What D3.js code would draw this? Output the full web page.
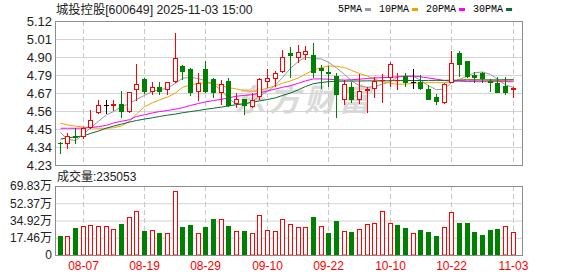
<!DOCTYPE html>
<html>
<head>
<meta charset="utf-8">
<script src="https://cdn.jsdelivr.net/npm/d3@7"></script>
<style>
body { margin: 0; background: #fff; }
svg { display: block; }
</style>
</head>
<body>
<div id="container"></div>
<script>
// data
let stockName = "城投控股[600649]";
let stamp = "2025-11-03 15:00";

let dates = [
  "08-04","08-05","08-06","08-07","08-08","08-11","08-12","08-13","08-14","08-15",
  "08-18","08-19","08-20","08-21","08-22","08-25","08-26","08-27","08-28","08-29",
  "09-01","09-02","09-03","09-04","09-05","09-08","09-09","09-10","09-11","09-12",
  "09-15","09-16","09-17","09-18","09-19","09-22","09-23","09-24","09-25","09-26",
  "09-29","09-30","10-09","10-10","10-13","10-14","10-15","10-16","10-17","10-20",
  "10-21","10-22","10-23","10-24","10-27","10-28","10-29","10-30","10-31","11-03"
];

let open = [
  4.368,4.364,4.412,4.409,4.463,4.559,4.600,4.598,4.607,4.564,
  4.702,4.762,4.687,4.710,4.702,4.751,4.842,4.823,4.689,4.823,
  4.762,4.683,4.749,4.611,4.636,4.595,4.656,4.751,4.766,4.813,
  4.924,4.896,4.916,4.910,4.828,4.805,4.780,4.638,4.714,4.640,
  4.696,4.706,4.753,4.772,4.753,4.780,4.745,4.745,4.698,4.649,
  4.621,4.745,4.920,4.873,4.786,4.797,4.747,4.739,4.718,4.702
];
let high = [
  4.374,4.426,4.457,4.467,4.570,4.632,4.632,4.632,4.689,4.680,
  4.856,4.768,4.743,4.743,4.743,5.048,4.845,4.828,4.800,4.873,
  4.766,4.755,4.766,4.673,4.636,4.677,4.766,4.821,4.811,4.941,
  4.961,4.972,4.967,4.986,4.848,4.842,4.797,4.755,4.745,4.792,
  4.714,4.776,4.792,4.865,4.797,4.800,4.821,4.786,4.724,4.669,
  4.735,4.935,4.935,4.875,4.807,4.807,4.760,4.772,4.776,4.714
];
let low = [
  4.306,4.337,4.368,4.395,4.460,4.553,4.553,4.570,4.529,4.560,
  4.632,4.675,4.667,4.667,4.667,4.745,4.762,4.663,4.632,4.683,
  4.652,4.607,4.595,4.590,4.544,4.590,4.636,4.714,4.718,4.807,
  4.772,4.869,4.883,4.772,4.704,4.718,4.529,4.610,4.621,4.611,
  4.559,4.652,4.621,4.718,4.698,4.718,4.704,4.698,4.636,4.605,
  4.611,4.745,4.780,4.776,4.745,4.745,4.689,4.683,4.667,4.652
];
let close = [
  4.364,4.409,4.405,4.457,4.508,4.599,4.600,4.604,4.564,4.679,
  4.729,4.689,4.714,4.689,4.741,4.889,4.813,4.683,4.739,4.688,
  4.683,4.729,4.601,4.636,4.601,4.632,4.760,4.766,4.797,4.899,
  4.910,4.930,4.936,4.807,4.815,4.801,4.669,4.731,4.638,4.689,
  4.700,4.752,4.758,4.854,4.757,4.745,4.745,4.704,4.640,4.626,
  4.731,4.862,4.856,4.780,4.772,4.766,4.744,4.683,4.683,4.706
];
let volume = [
  192000,192000,276000,293000,304000,293000,293000,263000,314000,381000,
  445000,243000,253000,223000,220000,648000,283000,304000,220000,283000,
  364000,364000,293000,243000,243000,220000,402000,253000,243000,364000,
  310000,280000,280000,385000,293000,220000,344000,240000,233000,263000,
  310000,320000,445000,320000,304000,273000,220000,253000,233000,192000,
  280000,432000,324000,324000,233000,202000,253000,263000,290000,235053
];

let ma5 = [
  4.430,4.390,4.380,4.420,4.460,4.500,4.540,4.560,4.590,4.610,
  4.635,4.660,4.685,4.695,4.705,4.735,4.766,4.772,4.764,4.750,
  4.730,4.690,4.640,4.605,4.600,4.625,4.655,4.685,4.725,4.770,
  4.828,4.870,4.897,4.889,4.885,4.865,4.830,4.790,4.750,4.720,
  4.710,4.715,4.730,4.745,4.775,4.780,4.776,4.755,4.720,4.695,
  4.700,4.740,4.760,4.780,4.800,4.805,4.790,4.760,4.725,4.710
];
let ma10 = [
  4.488,4.478,4.470,4.465,4.460,4.457,4.457,4.460,4.472,4.500,
  4.545,4.590,4.615,4.632,4.650,4.675,4.710,4.725,4.735,4.738,
  4.733,4.720,4.708,4.700,4.690,4.685,4.692,4.705,4.720,4.735,
  4.750,4.768,4.792,4.817,4.832,4.842,4.840,4.832,4.815,4.795,
  4.780,4.760,4.745,4.735,4.729,4.730,4.735,4.737,4.739,4.739,
  4.739,4.745,4.755,4.760,4.758,4.755,4.753,4.752,4.753,4.755
];
let ma20 = [
  4.457,4.457,4.457,4.458,4.462,4.467,4.475,4.490,4.500,4.510,
  4.530,4.540,4.552,4.560,4.567,4.575,4.584,4.598,4.610,4.620,
  4.628,4.636,4.645,4.655,4.660,4.665,4.675,4.688,4.700,4.710,
  4.720,4.735,4.750,4.762,4.762,4.760,4.757,4.755,4.757,4.760,
  4.765,4.768,4.770,4.772,4.775,4.778,4.780,4.775,4.768,4.760,
  4.752,4.749,4.748,4.746,4.745,4.745,4.745,4.745,4.745,4.745
];
let ma30 = [
  4.390,4.398,4.404,4.410,4.425,4.440,4.458,4.470,4.483,4.495,
  4.505,4.514,4.522,4.530,4.538,4.545,4.553,4.560,4.567,4.574,
  4.581,4.588,4.595,4.603,4.610,4.618,4.626,4.635,4.645,4.660,
  4.675,4.695,4.715,4.733,4.740,4.745,4.748,4.748,4.749,4.749,
  4.750,4.750,4.750,4.751,4.751,4.752,4.752,4.752,4.753,4.753,
  4.753,4.754,4.754,4.755,4.755,4.756,4.756,4.756,4.757,4.757
];

let maNames = ["5PMA", "10PMA", "20PMA", "30PMA"];
let gridDates = ["08-07","08-19","08-29","09-10","09-22","10-10","10-22","11-03"];
let priceTicks = ["4.23","4.34","4.45","4.56","4.67","4.79","4.90","5.01","5.12"];
let priceMin = 4.23, priceMax = 5.12;
let volMax = 698300;


let w = 578;
let h = 276;
let left = 55, right = 522;
let pTop = 21, pBot = 165, vTop = 186, vBot = 255;

let red = "#ff0000", green = "#008000";
let maColors = ["#999999", "#f5a000", "#ff00ff", "#0b6b35"];
let labelFont = "'Liberation Sans', 'Noto Sans CJK SC', sans-serif";

let viz = d3.select("#container")
  .append("svg")
    .attr("width", w)
    .attr("height", h)
;

let x = d3.scaleBand().domain(dates).range([56.16, 516.96]);
let col = d => Math.floor(x(d) + x.bandwidth() / 2);
let y = d3.scaleLinear().domain([priceMin, priceMax]).range([pBot, pTop]);
let yv = d3.scaleLinear().domain([0, volMax]).range([vBot, vTop]);

let priceTickVals = d3.range(priceTicks.length).map(k => priceMin + k * (priceMax - priceMin) / (priceTicks.length - 1));
let volTickVals = d3.range(5).map(k => volMax * k / 4);

// watermark
viz.append("text")
  .attr("x", 234)
  .attr("y", 111)
  .attr("font-family", "'Noto Sans CJK SC', sans-serif")
  .attr("font-size", 31)
  .attr("font-weight", "bold")
  .attr("font-style", "italic")
  .attr("letter-spacing", 4)
  .attr("fill", "#dadada")
  .text("东方财富");

// horizontal grid
viz.append("g")
  .attr("transform", "translate(" + left + ",0)")
  .call(d3.axisRight(y).tickValues(priceTickVals).tickSize(right - left).tickFormat(""))
  .call(g => g.select(".domain").remove())
  .selectAll("line").attr("stroke", "#d4d4d4");

viz.append("g")
  .attr("transform", "translate(" + left + ",0)")
  .call(d3.axisRight(yv).tickValues(volTickVals).tickSize(right - left).tickFormat(""))
  .call(g => g.select(".domain").remove())
  .selectAll("line").attr("stroke", "#d4d4d4");

// vertical dashed grid
[[pTop, pBot], [vTop, vBot]].forEach(function(p){
  viz.append("g").selectAll("line").data(gridDates).join("line")
    .attr("x1", d => col(d) + 0.5)
    .attr("x2", d => col(d) + 0.5)
    .attr("y1", p[0])
    .attr("y2", p[1])
    .attr("stroke", "#c8c8c8")
    .attr("stroke-dasharray", "5,3");
});

// moving averages
let lineMaker = d3.line()
  .x((d, i) => col(dates[i]) + 0.5)
  .y(d => y(d));

[ma5, ma10, ma20, ma30].forEach(function(s, k){
  viz.append("path")
    .datum(s)
    .attr("d", lineMaker)
    .attr("fill", "none")
    .attr("stroke", maColors[k])
    .attr("stroke-width", 1);
});

// candles
let idx = d3.range(dates.length);
function candleColor(i){
  if (close[i] > open[i]) return red;
  if (close[i] < open[i]) return green;
  return "#000";
}

let candles = viz.append("g").selectAll("g").data(idx).join("g");

candles.append("line")
  .attr("x1", i => col(dates[i]) + 0.5)
  .attr("x2", i => col(dates[i]) + 0.5)
  .attr("y1", i => Math.round(y(high[i])))
  .attr("y2", i => Math.round(y(low[i])) + 1)
  .attr("stroke", candleColor);

candles.each(function(i){
  let g = d3.select(this);
  let c = col(dates[i]);
  let top = Math.round(y(Math.max(open[i], close[i])));
  let bot = Math.round(y(Math.min(open[i], close[i])));
  let color = candleColor(i);
  if (bot - top < 1) {
    g.append("line")
      .attr("x1", c - 2).attr("x2", c + 3)
      .attr("y1", top + 0.5).attr("y2", top + 0.5)
      .attr("stroke", color);
  } else if (close[i] > open[i]) {
    g.append("rect")
      .attr("x", c - 1.5).attr("y", top + 0.5)
      .attr("width", 4).attr("height", bot - top)
      .attr("fill", "#fff").attr("stroke", red);
  } else {
    g.append("rect")
      .attr("x", c - 2).attr("y", top)
      .attr("width", 5).attr("height", bot - top + 1)
      .attr("fill", green);
  }
});

// volume bars, coloured by change from previous close
function volUp(i){
  if (i === 0) return close[0] >= open[0];
  return close[i] >= close[i - 1];
}

viz.append("g").selectAll("rect").data(idx).join("rect")
  .attr("x", i => volUp(i) ? col(dates[i]) - 1.5 : col(dates[i]) - 2)
  .attr("y", i => Math.round(yv(volume[i])) + (volUp(i) ? 0.5 : 0))
  .attr("width", i => volUp(i) ? 4 : 5)
  .attr("height", i => vBot - Math.round(yv(volume[i])) - (volUp(i) ? 0.5 : 0))
  .attr("fill", i => volUp(i) ? "#fff" : green)
  .attr("stroke", i => volUp(i) ? red : "none");

// panel frames
[[pTop, pBot], [vTop, vBot]].forEach(function(p){
  viz.append("rect")
    .attr("x", left + 0.5)
    .attr("y", p[0] + 0.5)
    .attr("width", right - left)
    .attr("height", p[1] - p[0])
    .attr("fill", "none")
    .attr("stroke", "#8c8c8c");
});

// axes
viz.append("g")
  .attr("transform", "translate(" + left + ",0)")
  .call(d3.axisLeft(y).tickValues(priceTickVals).tickSize(0).tickPadding(3)
    .tickFormat((d, i) => priceTicks[i]))
  .call(g => g.select(".domain").remove())
  .selectAll("text")
    .attr("font-family", labelFont)
    .attr("font-size", 13)
    .attr("fill", "#222");

viz.append("g")
  .attr("transform", "translate(" + left + ",0)")
  .call(d3.axisLeft(yv).tickValues(volTickVals).tickSize(0).tickPadding(3)
    .tickFormat(d => d === 0 ? "0" : (Math.round(d / 100) / 100).toFixed(2) + "万"))
  .call(g => g.select(".domain").remove())
  .selectAll("text")
    .attr("font-family", labelFont)
    .attr("font-size", 12)
    .attr("fill", "#222");

viz.append("g").selectAll("text").data(gridDates).join("text")
  .attr("x", d => col(d) + 0.5)
  .attr("y", 270)
  .attr("text-anchor", "middle")
  .attr("font-family", labelFont)
  .attr("font-size", 12)
  .attr("fill", red)
  .text(d => d);

// title and volume caption
viz.append("text")
  .attr("x", 56)
  .attr("y", 14)
  .attr("font-family", labelFont)
  .attr("font-size", 12.3)
  .attr("fill", "#222")
  .text(stockName + " " + stamp);

viz.append("text")
  .attr("x", 57)
  .attr("y", 181)
  .attr("font-family", labelFont)
  .attr("font-size", 12)
  .attr("fill", "#222")
  .text("成交量:" + volume[volume.length - 1]);

// legend
let lx = 338;
maNames.forEach(function(name, k){
  let t = viz.append("text")
    .attr("x", lx)
    .attr("y", 12)
    .attr("font-family", "'Liberation Mono', monospace")
    .attr("font-size", 10)
    .attr("fill", "#000")
    .text(name);
  let tw = t.node().getComputedTextLength();
  viz.append("rect")
    .attr("x", lx + tw + 3)
    .attr("y", 8)
    .attr("width", 6)
    .attr("height", 3)
    .attr("fill", maColors[k]);
  lx = lx + tw + 3 + 6 + 8;
});
</script>
</body>
</html>
